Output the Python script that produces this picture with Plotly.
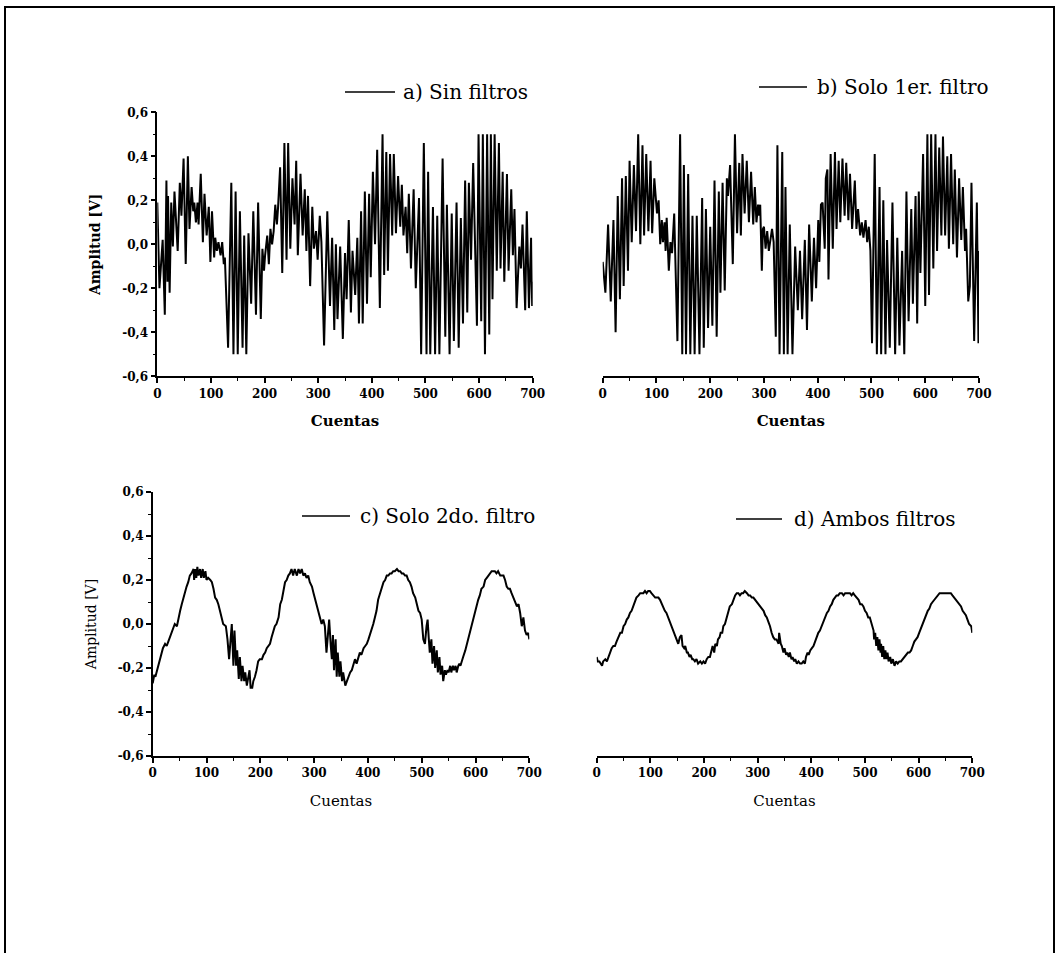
import plotly.graph_objects as go

# ---------------- data ----------------
X_TICKS = [0, 100, 200, 300, 400, 500, 600, 700]
X_TICK_TEXT = ["0", "100", "200", "300", "400", "500", "600", "700"]
Y_TICKS = [-0.6, -0.4, -0.2, 0.0, 0.2, 0.4, 0.6]
Y_TICK_TEXT = ["-0,6", "-0,4", "-0,2", "0,0", "0,2", "0,4", "0,6"]

LABELS = ["a) Sin filtros", "b) Solo 1er. filtro", "c) Solo 2do. filtro", "d) Ambos filtros"]

# a) raw signal, no filtering
A_X = [0, 4, 10, 14, 17, 19, 20, 23, 26, 29,
       32, 35, 38, 42, 45, 49, 53, 57, 60, 64,
       67, 69, 72, 75, 77, 81, 85, 88, 92, 96,
       99, 102, 106, 108, 111, 114, 118, 121, 124, 126,
       132, 138, 142, 146, 150, 154, 159, 162, 166, 170,
       175, 179, 184, 188, 193, 196, 199, 201, 205, 208,
       211, 214, 217, 220, 223, 225, 229, 233, 237, 241,
       244, 248, 252, 256, 259, 262, 267, 271, 275, 278,
       281, 285, 289, 292, 296, 299, 303, 306, 311, 317,
       322, 326, 330, 333, 336, 341,
       346, 350, 353, 357, 361, 364, 369, 373, 376, 380,
       383, 387, 391, 395, 398, 402, 406, 410, 415, 420,
       423, 427, 430, 434, 438, 441, 445, 449, 453, 456,
       459, 463, 466, 469, 473, 478, 482, 488, 492, 497,
       502, 505, 509, 514, 518, 522, 526, 532, 537, 540,
       545, 549, 553, 558, 562, 566, 570, 574, 578, 581,
       585, 589, 596, 599, 604, 607, 611, 615, 619, 622,
       625, 629, 633, 637, 640, 644, 647, 652, 655, 660,
       663, 666, 670, 675, 678, 681, 686, 689, 693, 697,
       699, 700]
A_Y = [0.19, -0.20, 0.02, -0.32, 0.29, -0.17, 0.22, -0.22, 0.19, -0.01,
       0.24, 0.10, -0.03, 0.28, 0.13, 0.39, -0.09, 0.40, 0.07, 0.26,
       0.15, 0.19, 0.10, 0.19, 0.09, 0.32, 0.01, 0.23, 0.04, 0.17,
       -0.08, 0.15, -0.06, 0.03, -0.03, 0.01, -0.05, 0.01, -0.09, -0.06,
       -0.47, 0.28, -0.50, 0.24, -0.50, 0.15, -0.47, 0.04, -0.50, 0.05,
       -0.27, 0.15, -0.32, 0.19, -0.34, -0.02, -0.12, -0.05, 0.04, -0.09,
       0.07, 0.00, 0.06, 0.18, 0.09, 0.16, 0.35, -0.13, 0.46, -0.07,
       0.46, -0.02, 0.30, 0.09, 0.38, -0.05, 0.32, 0.04, 0.25, -0.03,
       0.22, -0.19, 0.17, -0.02, 0.06, -0.07, 0.13, 0.01, -0.46, 0.15,
       -0.28, 0.03, -0.39, 0.00, -0.34, -0.01,
       -0.43, -0.04, -0.25, 0.11, -0.31, -0.03, -0.23, 0.03, -0.36, 0.15,
       -0.36, 0.24, -0.27, 0.23, -0.15, 0.33, 0.00, 0.43, -0.29, 0.50,
       -0.14, 0.42, -0.12, 0.41, 0.04, 0.41, 0.05, 0.31, 0.08, 0.27,
       0.04, 0.17, -0.04, 0.23, -0.11, 0.25, -0.20, 0.21, -0.50, 0.46,
       -0.50, 0.33, -0.50, 0.17, -0.50, 0.13, -0.50, 0.39, -0.42, 0.18,
       -0.50, 0.14, -0.44, 0.19, -0.47, 0.12, -0.36, 0.29, -0.31, 0.28,
       -0.07, 0.37, -0.37, 0.50, -0.35, 0.50, -0.50, 0.50, -0.41, 0.50,
       -0.25, 0.50, -0.12, 0.46, -0.11, 0.33, -0.17, 0.32, -0.12, 0.25,
       -0.05, 0.16, -0.29, -0.01, -0.11, 0.09, -0.30, 0.15, -0.29, 0.03,
       -0.28, -0.17]

# b) first filter only
B_X = [0, 5, 10, 15, 20, 24, 28, 32, 36, 39,
       43, 47, 50, 54, 58, 62, 66, 70, 74, 77,
       81, 85, 89, 92, 96, 99, 101, 104, 107, 110,
       112, 115, 117, 119, 122, 123, 126, 129, 133, 139,
       144, 148, 151, 155, 159, 163, 167, 171, 175, 180,
       185, 188, 192, 196, 200, 204, 208, 212, 216, 219,
       223, 227, 231, 233, 237, 242, 246, 250, 254, 257,
       260, 264, 268, 272, 276, 280, 283, 286, 289, 291,
       293, 296, 298, 300, 303, 306, 309, 311, 315, 318,
       322, 325, 329, 334, 337,
       340, 344, 348, 353, 358, 363, 367, 371, 376, 380,
       384, 389, 393, 397, 401, 403, 406, 409, 413, 415,
       418, 420, 424, 428, 432, 435, 439, 442, 446, 450,
       453, 457, 460, 464, 469, 472, 475, 479, 482, 485,
       489, 492, 495, 498, 501, 506, 510, 515, 518, 522,
       526, 529, 534, 539, 544, 548, 552, 557, 561, 565,
       569, 574, 577, 582, 585, 588, 591, 596, 600, 604,
       607, 611, 615, 619, 622, 626, 630, 633, 637, 641,
       644, 648, 652, 655, 659, 663, 667, 670, 674, 676,
       680, 683, 686, 691, 696, 699, 700]
B_Y = [-0.08, -0.22, 0.09, -0.26, 0.11, -0.40, 0.22, -0.25, 0.30, -0.19,
       0.31, -0.12, 0.38, 0.01, 0.36, 0.06, 0.50, 0.00, 0.45, 0.04,
       0.41, 0.06, 0.38, 0.05, 0.30, 0.22, 0.14, 0.20, 0.00, 0.11,
       0.01, 0.10, -0.03, 0.12, -0.06, -0.12, 0.01, -0.04, 0.14, -0.44,
       0.50, -0.50, 0.36, -0.50, 0.32, -0.50, 0.13, -0.50, 0.13, -0.50,
       0.21, -0.47, 0.16, -0.38, 0.08, -0.37, 0.29, -0.42, 0.24, -0.22,
       0.28, -0.21, 0.30, 0.22, 0.36, -0.09, 0.50, 0.05, 0.37, 0.04,
       0.41, 0.14, 0.38, 0.10, 0.33, 0.09, 0.26, 0.10, 0.18, 0.13,
       0.18, -0.12, 0.07, 0.08, -0.02, 0.06, -0.03, 0.00, 0.07, 0.01,
       -0.42, 0.45, -0.50, 0.42, -0.50,
       0.26, -0.50, 0.09, -0.50, -0.01, -0.30, -0.03, -0.34, 0.02, -0.39,
       0.09, -0.26, 0.03, -0.20, 0.11, -0.08, 0.18, 0.19, -0.02, 0.30,
       0.34, -0.16, 0.41, -0.02, 0.42, 0.07, 0.38, 0.10, 0.39, 0.13,
       0.37, 0.11, 0.32, 0.07, 0.29, 0.07, 0.16, 0.04, 0.10, 0.03,
       0.11, 0.01, 0.08, -0.03, -0.45, 0.41, -0.50, 0.26, -0.50, 0.20,
       -0.50, 0.02, -0.47, 0.19, -0.50, 0.03, -0.46, -0.03, -0.50, 0.24,
       -0.35, 0.16, -0.27, 0.22, -0.36, 0.24, -0.13, 0.41, -0.28, 0.50,
       -0.23, 0.50, -0.11, 0.50, -0.03, 0.44, 0.04, 0.49, 0.04, 0.40,
       -0.02, 0.41, 0.00, 0.34, -0.06, 0.30, 0.02, 0.26, -0.03, 0.07,
       -0.26, -0.19, 0.28, -0.44, 0.19, -0.45, -0.03]

# c) second filter only
C_X = [0, 3, 5, 7, 10, 14, 19, 23, 26, 29,
       33, 37, 41, 45, 48, 51, 54, 57, 60, 63,
       66, 69, 72, 76, 77, 79, 81, 83, 85, 88,
       90, 93, 95, 98, 100, 103, 107, 110, 113, 116,
       119, 122, 125, 128, 131, 136, 139, 142, 145, 147,
       150, 152, 155, 157, 160, 162, 165, 167, 170, 172,
       175, 177, 180, 182, 185, 187, 190, 193, 196, 199,
       203, 206, 209, 212, 215, 218, 221, 224, 227, 230,
       234, 237, 240, 243, 246, 249, 252, 255, 258, 261,
       264, 268, 271, 274, 277, 280, 283, 286, 289, 292,
       296, 299, 302, 305, 308, 311, 314, 317, 320, 323,
       326, 328, 331, 333, 335, 337, 340, 342, 344, 347,
       349, 352, 354, 358, 361, 364, 367, 370, 373, 376,
       379, 382, 385, 388, 392, 395, 398, 401, 404, 407,
       410, 413, 416, 419, 423, 426, 429, 432, 435, 438,
       441, 444, 447, 450, 454, 457, 460, 463, 466, 469,
       472, 475, 478, 481, 484, 488, 491, 494, 497, 500,
       503, 506, 509, 511, 513, 515, 518, 520, 523, 525,
       528, 530, 533, 535, 538, 540, 543, 545, 548, 550,
       553, 555, 558, 560, 563, 565, 568, 570, 572, 575,
       577, 581, 584, 587, 590, 593, 596, 599, 602, 605,
       608, 611, 615, 618, 621, 624, 627, 630, 633, 636,
       639, 642, 646, 649, 652, 655, 658, 661, 664, 667,
       670, 673, 677, 680, 683, 686, 689, 692, 695, 698, 700]
C_Y = [-0.27, -0.23, -0.24, -0.22, -0.19, -0.15, -0.11, -0.09, -0.10, -0.08,
       -0.05, -0.02, 0.00, -0.01, 0.03, 0.06, 0.09, 0.12, 0.15, 0.17,
       0.19, 0.22, 0.23, 0.25, 0.20, 0.25, 0.21, 0.26, 0.22, 0.25,
       0.21, 0.25, 0.21, 0.24, 0.20, 0.21, 0.20, 0.19, 0.16, 0.12,
       0.11, 0.09, 0.06, 0.03, 0.00, -0.01, -0.07, -0.16, -0.06, 0.00,
       -0.19, -0.03, -0.19, -0.12, -0.25, -0.15, -0.26, -0.19, -0.26, -0.22,
       -0.28, -0.25, -0.21, -0.29, -0.29, -0.26, -0.24, -0.21, -0.17, -0.16,
       -0.16, -0.14, -0.13, -0.11, -0.10, -0.09, -0.06, -0.03, -0.01, 0.00,
       0.03, 0.09, 0.11, 0.15, 0.19, 0.20, 0.22, 0.23, 0.25, 0.22,
       0.25, 0.22, 0.25, 0.23, 0.25, 0.22, 0.23, 0.21, 0.22, 0.19,
       0.17, 0.14, 0.11, 0.09, 0.06, 0.03, 0.00, 0.02, -0.01, -0.13,
       -0.03, 0.02, -0.10, -0.16, -0.05, -0.21, -0.07, -0.24, -0.13, -0.24,
       -0.17, -0.26, -0.22, -0.28, -0.26, -0.24, -0.22, -0.21, -0.19, -0.16,
       -0.18, -0.15, -0.13, -0.14, -0.11, -0.10, -0.09, -0.07, -0.05, -0.02,
       0.00, 0.03, 0.06, 0.11, 0.14, 0.16, 0.19, 0.20, 0.22, 0.22,
       0.23, 0.23, 0.24, 0.24, 0.25, 0.24, 0.24, 0.23, 0.23, 0.22,
       0.22, 0.20, 0.19, 0.17, 0.14, 0.12, 0.09, 0.06, 0.05, 0.02,
       -0.07, -0.09, -0.01, 0.02, -0.06, -0.13, -0.07, -0.18, -0.10, -0.20,
       -0.12, -0.22, -0.15, -0.23, -0.19, -0.26, -0.21, -0.23, -0.21, -0.22,
       -0.19, -0.22, -0.19, -0.21, -0.19, -0.22, -0.19, -0.18, -0.19, -0.16,
       -0.15, -0.12, -0.09, -0.07, -0.04, -0.01, 0.02, 0.05, 0.08, 0.11,
       0.13, 0.16, 0.17, 0.20, 0.21, 0.22, 0.23, 0.24, 0.24, 0.24,
       0.23, 0.24, 0.22, 0.22, 0.22, 0.20, 0.17, 0.16, 0.16, 0.14,
       0.12, 0.10, 0.08, 0.09, 0.05, -0.01, 0.03, -0.03, -0.05, -0.04, -0.07]

# d) both filters
D_X = [0, 2, 5, 7, 10, 12, 16, 19, 22, 25,
       28, 31, 34, 37, 40, 44, 47, 50, 53, 56,
       59, 62, 65, 68, 71, 74, 78, 81, 84, 87,
       90, 93, 96, 99, 102, 106, 109, 112, 115, 118,
       121, 124, 127, 130, 133, 137, 140, 143, 146, 149,
       152, 155, 158, 160, 163, 165, 168, 170, 173, 175,
       178, 180, 183, 186, 189, 193, 196, 199, 202, 205,
       208, 211, 214, 216, 219, 221, 224, 226, 229, 231,
       234, 236, 239, 241, 244, 246, 248, 252, 255, 258,
       261, 264, 267, 270, 273, 276, 280, 283, 286, 289,
       292, 295, 298, 301, 304, 307, 311, 314, 317, 320,
       323, 326, 329, 332, 335, 339, 340, 343, 345, 348,
       350, 353, 355, 358, 360, 363, 365, 368, 370, 373,
       376, 379, 382, 385, 388, 390, 393, 395, 398, 401,
       404, 407, 410, 413, 416, 419, 422, 426, 429, 432,
       435, 438, 441, 444, 447, 450, 453, 457, 460, 463,
       466, 469, 472, 475, 478, 481, 485, 488, 491, 494,
       497, 500, 503, 506, 509, 512, 516, 517, 519, 521,
       523, 525, 527, 529, 530, 532, 534, 536, 538, 540,
       542, 544, 547, 549, 552, 555, 558, 561, 564, 567,
       570, 573, 576, 580, 583, 586, 589, 592, 595, 598,
       601, 604, 607, 611, 614, 617, 620, 623, 626, 629,
       632, 635, 639, 642, 645, 648, 651, 654, 657, 660,
       663, 666, 670, 673, 676, 679, 682, 685, 688, 691,
       694, 698, 700]
D_Y = [-0.15, -0.17, -0.17, -0.18, -0.19, -0.17, -0.16, -0.17, -0.15, -0.13,
       -0.11, -0.10, -0.10, -0.08, -0.06, -0.04, -0.04, -0.01, 0.00, 0.02,
       0.03, 0.05, 0.06, 0.08, 0.10, 0.12, 0.13, 0.14, 0.14, 0.14,
       0.15, 0.14, 0.15, 0.15, 0.14, 0.13, 0.12, 0.12, 0.12, 0.11,
       0.09, 0.08, 0.06, 0.05, 0.03, 0.01, -0.01, -0.03, -0.05, -0.07,
       -0.09, -0.06, -0.05, -0.10, -0.11, -0.10, -0.13, -0.13, -0.15, -0.14,
       -0.16, -0.16, -0.17, -0.16, -0.18, -0.17, -0.18, -0.17, -0.18, -0.16,
       -0.15, -0.15, -0.12, -0.10, -0.13, -0.09, -0.10, -0.07, -0.06, -0.04,
       -0.04, -0.01, 0.00, 0.02, 0.04, 0.06, 0.08, 0.09, 0.11, 0.13,
       0.14, 0.14, 0.13, 0.14, 0.14, 0.15, 0.14, 0.13, 0.13, 0.12,
       0.12, 0.11, 0.10, 0.09, 0.08, 0.07, 0.06, 0.04, 0.03, 0.01,
       -0.01, -0.04, -0.06, -0.07, -0.07, -0.09, -0.04, -0.09, -0.10, -0.13,
       -0.11, -0.14, -0.13, -0.15, -0.13, -0.16, -0.15, -0.17, -0.16, -0.18,
       -0.17, -0.18, -0.18, -0.17, -0.18, -0.15, -0.13, -0.14, -0.12, -0.11,
       -0.10, -0.08, -0.06, -0.04, -0.03, -0.01, 0.01, 0.03, 0.05, 0.06,
       0.08, 0.09, 0.11, 0.12, 0.13, 0.13, 0.14, 0.14, 0.13, 0.14,
       0.14, 0.14, 0.14, 0.13, 0.14, 0.13, 0.12, 0.11, 0.09, 0.09,
       0.08, 0.06, 0.05, 0.03, 0.03, 0.00, -0.03, -0.07, -0.04, -0.10,
       -0.06, -0.12, -0.07, -0.13, -0.09, -0.15, -0.10, -0.16, -0.12, -0.16,
       -0.13, -0.17, -0.15, -0.18, -0.16, -0.19, -0.17, -0.18, -0.17, -0.17,
       -0.16, -0.15, -0.14, -0.13, -0.13, -0.12, -0.10, -0.08, -0.07, -0.06,
       -0.04, -0.02, 0.00, 0.02, 0.04, 0.06, 0.07, 0.09, 0.10, 0.11,
       0.12, 0.13, 0.14, 0.14, 0.14, 0.14, 0.14, 0.14, 0.14, 0.14,
       0.13, 0.12, 0.11, 0.10, 0.09, 0.08, 0.06, 0.05, 0.04, 0.02,
       0.00, -0.01, -0.04]

# ---------------- layout ----------------
W, H = 1058, 953
SERIF = "DejaVu Serif"


def fx(p):
    return p / W


def fy(p):
    return 1 - p / H


# plot areas in pixels: (left, right, top, bottom)
BOXES = [(157.3, 532.7, 112.3, 376.3),
         (602.7, 979.0, 112.3, 376.3),
         (152.7, 529.3, 492.0, 756.0),
         (596.7, 972.3, 492.0, 756.0)]
SHOW_Y = [True, False, True, False]
BOLD_TITLES = [True, True, False, False]
# legend sample line (x0, x1, y) and text start x, in pixels
LEGEND_POS = [(345, 395, 92, 401), (759, 807, 87, 815),
              (302, 350, 516, 358), (736, 782, 519, 792)]

series = [(A_X, A_Y), (B_X, B_Y), (C_X, C_Y), (D_X, D_Y)]

fig = go.Figure()
layout_axes = {}
for i, ((xs, ys), box) in enumerate(zip(series, BOXES)):
    n = "" if i == 0 else str(i + 1)
    fig.add_trace(go.Scatter(x=xs, y=ys, mode="lines", name=LABELS[i],
                             line=dict(color="black", width=2),
                             xaxis="x" + n, yaxis="y" + n, showlegend=False,
                             cliponaxis=False))
    l, r, t, b = box
    weight = "bold" if BOLD_TITLES[i] else "normal"
    layout_axes["xaxis" + n] = dict(
        domain=[fx(l), fx(r)], anchor="y" + n, range=[0, 700],
        tickvals=X_TICKS, ticktext=X_TICK_TEXT,
        ticks="outside", ticklen=5, tickwidth=1.5, tickcolor="black",
        minor=dict(dtick=50, tick0=0, ticks="outside", ticklen=3,
                   tickwidth=1.3, tickcolor="black"),
        showline=True, linecolor="black", linewidth=1.6,
        showgrid=False, zeroline=False,
        tickfont=dict(family=SERIF, size=12, color="black", weight="bold"),
        title=dict(text="Cuentas", standoff=16,
                   font=dict(family=SERIF, size=15, color="black", weight=weight)),
        automargin=False,
    )
    layout_axes["yaxis" + n] = dict(
        domain=[fy(b), fy(t)], anchor="x" + n, range=[-0.6, 0.6],
        visible=SHOW_Y[i],
        tickvals=Y_TICKS, ticktext=Y_TICK_TEXT,
        ticks="outside", ticklen=5, tickwidth=1.5, tickcolor="black",
        minor=dict(dtick=0.1, tick0=0, ticks="outside", ticklen=3,
                   tickwidth=1.3, tickcolor="black"),
        showline=True, linecolor="black", linewidth=1.6,
        showgrid=False, zeroline=False,
        tickfont=dict(family=SERIF, size=12, color="black", weight="bold"),
        title=dict(text="Amplitud [V]", standoff=18,
                   font=dict(family=SERIF, size=14, color="black", weight=weight)),
        automargin=False,
    )

shapes = []
annotations = []
for label, (x0, x1, y, tx) in zip(LABELS, LEGEND_POS):
    shapes.append(dict(type="line", xref="paper", yref="paper",
                       x0=fx(x0), x1=fx(x1), y0=fy(y), y1=fy(y),
                       line=dict(color="black", width=1.6)))
    annotations.append(dict(text=label, xref="paper", yref="paper",
                            x=fx(tx), y=fy(y), xanchor="left", yanchor="middle",
                            showarrow=False,
                            font=dict(family=SERIF, size=20, color="black")))

# outer frame
shapes.append(dict(type="rect", xref="paper", yref="paper",
                   x0=fx(5), x1=fx(1054), y0=-0.05, y1=fy(7),
                   line=dict(color="black", width=2), fillcolor="rgba(0,0,0,0)"))

fig.update_layout(
    width=W, height=H,
    margin=dict(l=0, r=0, t=0, b=0),
    paper_bgcolor="white", plot_bgcolor="white",
    separators=",.",
    shapes=shapes, annotations=annotations,
    showlegend=False,
    **layout_axes,
)

fig.write_html("out.html")
